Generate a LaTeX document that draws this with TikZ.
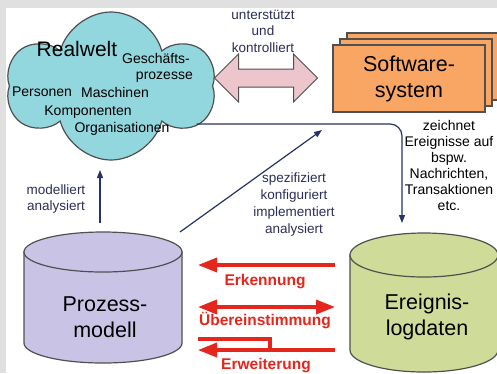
\documentclass[tikz,border=0pt]{standalone}
\usepackage{fontspec}
\setmainfont{Liberation Sans}
\usetikzlibrary{shapes.symbols,shapes.arrows,shadows,arrows.meta,positioning,calc}
\definecolor{grau}{RGB}{224,224,224}
\definecolor{kante}{RGB}{80,80,80}
\definecolor{wolke}{RGB}{146,214,222}
\definecolor{rosa}{RGB}{236,198,204}
\definecolor{orangefill}{RGB}{249,166,100}
\definecolor{lila}{RGB}{201,196,229}
\definecolor{gruen}{RGB}{207,220,153}
\definecolor{navyblau}{RGB}{40,50,100}
\definecolor{navytext}{RGB}{45,45,90}
\definecolor{rotpfeil}{RGB}{228,38,28}

\begin{document}
\begin{tikzpicture}[x=1pt,y=-1pt]
        \tikzstyle{every node}+=[inner sep=0pt, align=center]
        \tikzstyle{klein}=[font=\fontsize{13.5}{16.5}\selectfont, text=navytext]
        \tikzstyle{wtext}=[font=\fontsize{14}{16}\selectfont]
        \tikzstyle{gross}=[font=\fontsize{21.5}{26}\selectfont]
        \tikzstyle{rtext}=[font=\fontsize{15.5}{18}\selectfont\bfseries, text=rotpfeil]
        \tikzstyle{flow}=[draw=navyblau, line width=1.2pt, -{Triangle[length=8pt,width=6pt]}]
        \tikzstyle{rot}=[draw=rotpfeil, line width=3.5pt]
        \tikzstyle{zyl}=[draw=kante, line width=1.2pt]
        \useasboundingbox (0,0) rectangle (497,373);
        \fill[white] (0,0) rectangle (497,373);
        \fill[grau] (0,0) rectangle (497,8);
        \fill[grau] (0,0) rectangle (6,373);
        \node[cloud, cloud puffs=6, cloud puff arc=150, draw=kante, line width=1.2pt, fill=wolke, minimum width=207pt, minimum height=148pt] (rw) at (111,86) {};
        \node[font=\fontsize{21}{24}\selectfont] (realwelt) at (77,49) {Realwelt};
        \node[wtext] (gp) at (156,68) {Geschäfts-\\\hspace*{1.2em}prozesse};
        \node[wtext] (personen) at (42,92) {Personen};
        \node[wtext] (maschinen) at (115,92) {Maschinen};
        \node[wtext] (komponenten) at (88,112) {Komponenten};
        \node[wtext] (organisationen) at (122,129) {Organisationen};
        \node[double arrow, draw=kante, line width=1pt, fill=rosa, inner ysep=8.5pt, minimum height=103pt, double arrow head extend=15pt] (ds) at (266,78) {};
        \node[klein] (uk) at (263,31) {unterstützt\\und\\kontrolliert};
        \node[draw=kante, line width=1.2pt, fill=orangefill, minimum width=152pt, minimum height=67pt, gross,
          double copy shadow={shadow xshift=7pt, shadow yshift=6pt, fill=orangefill, draw=kante, line width=1.2pt}] (sw) at (409,78.5) {Software-\\system};
        \path[zyl, fill=lila] (24,252) -- (24,343) arc[start angle=180, end angle=0, x radius=79, y radius=20] -- (182,252) -- cycle;
        \draw[zyl, fill=lila] (103,252) ellipse [x radius=79, y radius=20];
        \node[gross] (pm) at (105,317) {Prozess-\\modell};
        \path[zyl, fill=gruen] (350,255) -- (350,350) arc[start angle=180, end angle=0, x radius=74, y radius=22] -- (498,255) -- cycle;
        \draw[zyl, fill=gruen] (424,255) ellipse [x radius=74, y radius=22];
        \node[gross] (el) at (427,317) {Ereignis-\\logdaten};
        \node[wtext] (ze) at (449,165) {zeichnet\\Ereignisse auf\\bspw.\\Nachrichten,\\Transaktionen\\etc.};
        \node[klein] (ma) at (56,199) {modelliert\\analysiert};
        \node[klein, font=\fontsize{13.5}{17}\selectfont] (sk) at (294,205) {spezifiziert\\konfiguriert\\implementiert\\analysiert};
        \coordinate (elTop) at (402,223);
        \draw[flow, rounded corners=12pt] ($(rw.-25)+(0,-2)$) -| (elTop);
        \coordinate (moA) at (100,223);
        \coordinate (moB) at (100,170);
        \draw[flow] (moA) -- (moB);
        \coordinate (spA) at (180,232);
        \coordinate (spB) at (322,130);
        \draw[flow] (spA) -- (spB);
        \coordinate (erkL) at (198,265);
        \coordinate (erkR) at (335,265);
        \coordinate (ueL) at (198,307);
        \coordinate (ueR) at (335,307);
        \coordinate (ewL) at (198,350);
        \coordinate (ewR) at (335,350);
        \coordinate (ewK) at (270,339);
        \draw[rot, -{Triangle[length=19pt,width=14pt]}] (erkR) -- (erkL);
        \draw[rot, {Triangle[length=19pt,width=14pt]}-{Triangle[length=19pt,width=14pt]}] (ueL) -- (ueR);
        \draw[rot, -{Triangle[length=19pt,width=14pt]}] (ewR) -- (ewL);
        \draw[rot] (ewL |- ewK) -| (ewK |- ewR);
        \node[rtext] (erk) at (265,282) {Erkennung};
        \node[rtext] (ue) at (265,321) {Übereinstimmung};
        \node[rtext] (ew) at (266,366) {Erweiterung};
\end{tikzpicture}
\end{document}
